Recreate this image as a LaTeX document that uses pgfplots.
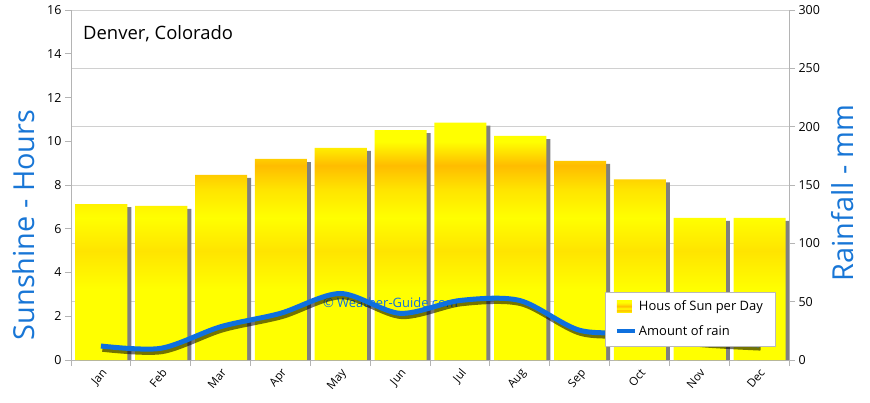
\documentclass[border=0pt]{standalone}
\usepackage{pgfplots}
\usepackage{pgfplotstable}
\pgfplotsset{compat=1.18}
\usepackage{fontspec}
\setmainfont{Open Sans}
\definecolor{rainblue}{RGB}{14,112,222}
\definecolor{labblue}{RGB}{24,118,214}
\definecolor{gridgray}{RGB}{208,208,208}
\definecolor{axgray}{RGB}{180,180,180}
\definecolor{shgray}{RGB}{128,128,128}
\definecolor{sunY}{RGB}{255,255,0}
\definecolor{sunM}{RGB}{255,228,0}
\definecolor{sunO}{RGB}{255,188,0}
\pgfdeclareverticalshading{sunbar}{100bp}{color(0bp)=(sunY); color(25bp)=(sunY); color(40bp)=(sunY); color(48bp)=(sunM); color(55bp)=(sunY); color(61bp)=(sunM); color(66bp)=(sunO); color(69bp)=(sunM); color(71bp)=(sunY); color(75bp)=(sunY); color(100bp)=(sunY)}
\pgfdeclareverticalshading{sunleg}{100bp}{color(0bp)=(sunY); color(25bp)=(sunY); color(35bp)=(sunO); color(42bp)=(sunY); color(52bp)=(sunO); color(60bp)=(sunM); color(68bp)=(sunY); color(75bp)=(sunY); color(100bp)=(sunY)}
\newcommand\ticksize{\fontsize{12.5}{15}\selectfont}

\pgfplotstableread{
m sun rain
0 7.13 12
1 7.05 10
2 8.46 28.5
3 9.19 40
4 9.70 57
5 10.51 40
6 10.85 51
7 10.24 51
8 9.10 25.5
9 8.26 23
10 6.50 16
11 6.50 13
}\datatab

\begin{document}
\begin{tikzpicture}
% grid + right axis (rain scale)
\begin{axis}[
  at={(71bp,43bp)}, anchor=south west, scale only axis,
  width=718bp, height=350bp,
  xmin=-0.5, xmax=11.5, ymin=0, ymax=300,
  axis x line=none, axis y line*=right,
  axis line style={axgray, line width=0.8bp},
  ytick={0,50,100,150,200,250,300},
  ymajorgrids, grid style={gridgray, line width=0.8bp},
  tick align=outside, major tick length=6bp,
  y tick style={axgray, line width=0.8bp},
  yticklabel style={font=\ticksize, black},
  /pgf/number format/assume math mode=true,
]
\end{axis}
% bars (sunshine scale)
\begin{axis}[
  at={(71bp,43bp)}, anchor=south west, scale only axis,
  width=718bp, height=350bp,
  xmin=-0.5, xmax=11.5, ymin=0, ymax=16,
  axis y line*=left, axis x line*=bottom,
  axis line style={axgray, line width=0.8bp},
  ytick={0,2,4,6,8,10,12,14,16},
  xtick={-0.5,0.5,1.5,2.5,3.5,4.5,5.5,6.5,7.5,8.5,9.5,10.5,11.5},
  x tick label as interval,
  xticklabels={Jan,Feb,Mar,Apr,May,Jun,Jul,Aug,Sep,Oct,Nov,Dec},
  tick align=outside, major tick length=6bp,
  tick style={axgray, line width=0.8bp},
  yticklabel style={font=\ticksize, black},
  xticklabel style={font=\fontsize{11.5}{13}\selectfont, black, rotate=50, anchor=north east, inner sep=1bp},
  /pgf/number format/assume math mode=true,
  ybar, bar width=0.87,
]
\addplot[draw=none, fill=shgray, bar shift=4.5bp] table[x=m, y expr=\thisrow{sun}-0.14] {\datatab};
\addplot[draw=none, shading=sunbar, bar shift=0.5bp] table[x=m, y=sun] {\datatab};
\node[anchor=west, font=\fontsize{18.5}{22}\selectfont, inner sep=0pt] at (rel axis cs:0.0167,0.931) {Denver, Colorado};
\end{axis}
% rain line
\begin{axis}[
  at={(71bp,43bp)}, anchor=south west, scale only axis,
  width=718bp, height=350bp,
  xmin=-0.5, xmax=11.5, ymin=0, ymax=300,
  hide axis, clip=false,
  legend style={at={(rel axis cs:0.9805,0.04)}, anchor=south east,
    draw=gray!55, fill=white, font=\fontsize{13}{15}\selectfont,
    inner xsep=10bp, inner ysep=7bp, row sep=9bp},
  legend cell align=left,
]
\node[rainblue, anchor=west, font=\fontsize{13}{15}\selectfont, inner sep=0pt] at (axis cs:3.71,49.5) {© Weather-Guide.com};
\addlegendimage{legend image code/.code={\path[shading=sunleg, draw=none] (0bp,-6bp) rectangle (15bp,6bp);}}
\addlegendentry{Hous of Sun per Day}
\addplot[black, opacity=0.55, line width=5.5bp, smooth, forget plot, xshift=1.5bp, yshift=-3bp] table[x=m, y=rain] {\datatab};
\addplot[rainblue, line width=5bp, smooth, legend image code/.code={\draw[rainblue, line width=4bp] (0bp,0bp) -- (18bp,0bp);}] table[x=m, y=rain] {\datatab};
\addlegendentry{Amount of rain}
\end{axis}
\node[rotate=90, labblue, font=\fontsize{29}{34}\selectfont] at (24bp,178bp) {Sunshine - Hours};
\node[rotate=90, labblue, font=\fontsize{29}{34}\selectfont] at (843bp,210bp) {Rainfall - mm};
\pgfresetboundingbox
\path[use as bounding box] (0,0) rectangle (870bp,403bp);
\end{tikzpicture}
\end{document}
